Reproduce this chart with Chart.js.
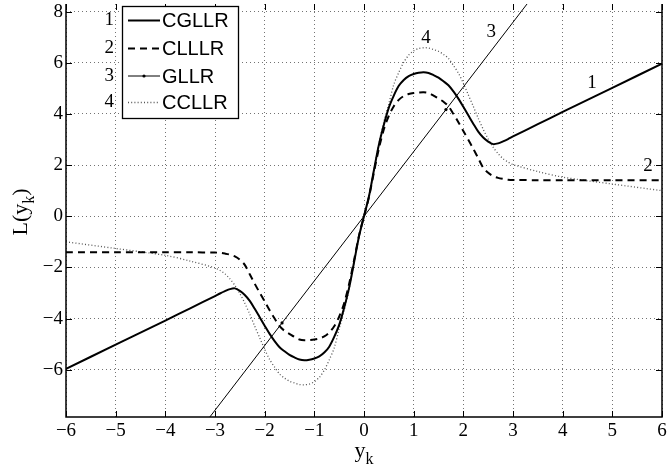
<!DOCTYPE html>
<html><head><meta charset="utf-8">
<script src="https://cdn.jsdelivr.net/npm/chart.js@4.4.1/dist/chart.umd.min.js"></script>
<style>html,body{margin:0;padding:0;background:#fff;}#wrap{width:667px;height:474px;position:relative;}</style>
</head><body><div id="wrap"><canvas id="c" width="667" height="474"></canvas></div>
<script>
// ---- data ----
const xValues = [-6,-5,-4,-3.5,
  -3,-2.9,-2.8,-2.7,-2.6,-2.5,-2.4,-2.3,-2.2,-2.1,-2,-1.9,-1.8,-1.7,-1.6,-1.5,-1.4,-1.3,-1.2,-1.1,-1,-0.9,-0.8,-0.7,-0.6,-0.5,-0.4,-0.3,-0.2,-0.1,
  0,
  0.1,0.2,0.3,0.4,0.5,0.6,0.7,0.8,0.9,1,1.1,1.2,1.3,1.4,1.5,1.6,1.7,1.8,1.9,2,2.1,2.2,2.3,2.4,2.5,2.6,2.7,2.8,2.9,3,
  3.5,4,5,6];
const cgllr = [-5.97,-5.02,-4.08,-3.6,
  -3.12,-3.02,-2.93,-2.85,-2.82,-2.92,-3.08,-3.31,-3.62,-3.95,-4.28,-4.6,-4.88,-5.12,-5.28,-5.42,-5.52,-5.6,-5.63,-5.61,-5.56,-5.48,-5.33,-5.1,-4.72,-4.25,-3.58,-2.8,-1.8,-0.78,
  0,
  0.78,1.8,2.8,3.58,4.25,4.72,5.1,5.33,5.48,5.56,5.61,5.63,5.6,5.52,5.42,5.28,5.12,4.88,4.6,4.28,3.95,3.62,3.31,3.08,2.92,2.82,2.85,2.93,3.02,3.12,
  3.6,4.08,5.02,5.97];
const clllr = [-1.41,-1.41,-1.41,-1.41,
  -1.42,-1.43,-1.46,-1.5,-1.57,-1.7,-1.9,-2.27,-2.64,-2.99,-3.33,-3.68,-4.0,-4.3,-4.48,-4.6,-4.72,-4.82,-4.85,-4.84,-4.82,-4.78,-4.7,-4.55,-4.3,-3.93,-3.4,-2.65,-1.72,-0.75,
  0,
  0.75,1.72,2.65,3.4,3.93,4.3,4.55,4.7,4.78,4.82,4.84,4.85,4.82,4.72,4.6,4.48,4.3,4.0,3.68,3.33,2.99,2.64,2.27,1.9,1.7,1.57,1.5,1.46,1.43,1.42,
  1.41,1.41,1.41,1.41];
const ccllr = [-1.0,-1.26,-1.53,-1.75,
  -2.02,-2.12,-2.25,-2.45,-2.7,-3.02,-3.4,-3.83,-4.3,-4.75,-5.2,-5.6,-5.9,-6.17,-6.33,-6.45,-6.52,-6.58,-6.59,-6.56,-6.47,-6.3,-6.02,-5.62,-5.15,-4.4,-3.7,-2.85,-1.8,-0.8,
  0,
  0.8,1.8,2.85,3.7,4.4,5.15,5.62,6.02,6.3,6.47,6.56,6.59,6.58,6.52,6.45,6.33,6.17,5.9,5.6,5.2,4.75,4.3,3.83,3.4,3.02,2.7,2.45,2.25,2.12,2.02,
  1.75,1.53,1.26,1.0];
const gllrX = [-4.95,-1.65,1.65,4.95];
const gllr = [-12.52,-4.17,4.17,12.52];
const xTicks = [-6,-5,-4,-3,-2,-1,0,1,2,3,4,5,6];
const yTicks = [-6,-4,-2,0,2,4,6,8];
const seriesNames = ['CGLLR','CLLLR','GLLR','CCLLR'];
const seriesNumbers = ['1','2','3','4'];
const curveTags = [{t:'1',x:4.59,y:5.2},{t:'2',x:5.72,y:1.97},{t:'3',x:2.56,y:7.2},{t:'4',x:1.25,y:6.98}];

const pts = (xs, ys) => xs.map((x,i)=>({x:x,y:ys[i]}));
const SERIF = '"Liberation Serif","Times New Roman",serif';
const SANS = '"Liberation Sans",Arial,sans-serif';
const minus = v => String(v).replace('-', '\u2212');

const styles = [
  {borderColor:'#000', borderWidth:2, borderDash:[]},
  {borderColor:'#000', borderWidth:2, borderDash:[7,5]},
  {borderColor:'#000', borderWidth:1, borderDash:[]},
  {borderColor:'#555', borderWidth:1.3, borderDash:[1,2.2]}
];

const decor = {
  id:'decor',
  afterDraw(chart){
    const ctx = chart.ctx, a = chart.chartArea, xs = chart.scales.x, ys = chart.scales.y;
    ctx.save();
    ctx.strokeStyle = '#000'; ctx.lineWidth = 1.5; ctx.setLineDash([]);
    ctx.beginPath();
    ctx.moveTo(a.left, a.top); ctx.lineTo(a.left, a.bottom); ctx.lineTo(a.right, a.bottom); ctx.lineTo(a.right, a.top);
    ctx.stroke();
    ctx.lineWidth = 1; const L = 6;
    ctx.beginPath();
    xTicks.forEach(v=>{ const p = Math.round(xs.getPixelForValue(v))+0.5;
      ctx.moveTo(p, a.bottom); ctx.lineTo(p, a.bottom-L);
      ctx.moveTo(p, a.top); ctx.lineTo(p, a.top+L); });
    yTicks.forEach(v=>{ const p = Math.round(ys.getPixelForValue(v))+0.5;
      ctx.moveTo(a.left, p); ctx.lineTo(a.left+L, p);
      ctx.moveTo(a.right, p); ctx.lineTo(a.right-L, p); });
    ctx.stroke();
    ctx.fillStyle = '#000'; ctx.font = '19px ' + SERIF; ctx.textAlign='center'; ctx.textBaseline='middle';
    curveTags.forEach(c=> ctx.fillText(c.t, xs.getPixelForValue(c.x), ys.getPixelForValue(c.y)));
    const bx = 122, by = 6, bw = 116, bh = 112;
    ctx.fillStyle = '#fff'; ctx.fillRect(bx, by, bw, bh);
    ctx.strokeStyle = '#000'; ctx.lineWidth = 1.3; ctx.strokeRect(bx+0.5, by+0.5, bw, bh);
    const rows = [20.5, 48.5, 76, 102.5];
    chart.data.datasets.forEach((ds,i)=>{
      const y = rows[i];
      ctx.strokeStyle = ds.borderColor; ctx.lineWidth = ds.borderWidth; ctx.setLineDash(ds.borderDash||[]);
      ctx.beginPath(); ctx.moveTo(128, y); ctx.lineTo(160, y); ctx.stroke();
      ctx.setLineDash([]);
      if (ds.pointRadius > 0) { ctx.fillStyle='#000'; ctx.beginPath(); ctx.arc(144, y, ds.pointRadius, 0, Math.PI*2); ctx.fill(); }
      ctx.fillStyle = '#000'; ctx.font = '20px ' + SANS; ctx.textAlign='left'; ctx.textBaseline='middle';
      ctx.fillText(seriesNames[i], 162, y+1);
      ctx.font = '19px ' + SERIF; ctx.textAlign='right';
      ctx.fillText(seriesNumbers[i], 114, y);
    });
    // x axis title y_k
    ctx.textAlign='left'; ctx.textBaseline='alphabetic';
    ctx.font = '22px ' + SERIF;
    const wy = ctx.measureText('y').width;
    ctx.font = '16px ' + SERIF;
    const wk = ctx.measureText('k').width;
    const cx = (a.left + a.right)/2, tx = cx - (wy+wk)/2;
    ctx.font = '22px ' + SERIF; ctx.fillText('y', tx, 457);
    ctx.font = '16px ' + SERIF; ctx.fillText('k', tx+wy, 464);
    // y axis title L(y_k)
    ctx.save();
    ctx.translate(27, 212); ctx.rotate(-Math.PI/2);
    ctx.font = '22px ' + SERIF; const w1 = ctx.measureText('L(y').width, w3 = ctx.measureText(')').width;
    ctx.font = '16px ' + SERIF; const w2 = ctx.measureText('k').width;
    let sx = -(w1+w2+w3)/2;
    ctx.font = '22px ' + SERIF; ctx.fillText('L(y', sx, 0);
    ctx.font = '16px ' + SERIF; ctx.fillText('k', sx+w1, 7);
    ctx.font = '22px ' + SERIF; ctx.fillText(')', sx+w1+w2, 0);
    ctx.restore();
    ctx.restore();
  }
};

const lineCommon = {showLine:true, pointRadius:0, tension:0.3};
new Chart(document.getElementById('c'), {
  type:'scatter',
  data:{ datasets:[
    Object.assign({label:seriesNames[0], data:pts(xValues,cgllr)}, lineCommon, styles[0]),
    Object.assign({label:seriesNames[1], data:pts(xValues,clllr)}, lineCommon, styles[1]),
    Object.assign({label:seriesNames[2], data:pts(gllrX,gllr), showLine:true, tension:0, pointRadius:1.6, pointBackgroundColor:'#000', pointBorderWidth:0}, styles[2]),
    Object.assign({label:seriesNames[3], data:pts(xValues,ccllr)}, lineCommon, styles[3])
  ]},
  options:{
    responsive:false, animation:false, devicePixelRatio:1,
    layout:{padding:{left:0,right:5,top:0,bottom:0}},
    plugins:{legend:{display:false}, tooltip:{enabled:false}},
    scales:{
      x:{ type:'linear', min:-6, max:6,
          afterBuildTicks:s=>{ s.ticks = xTicks.map(v=>({value:v})); },
          afterFit:s=>{ s.height = 57; s.paddingLeft = 0; s.paddingRight = 0; },
          ticks:{ callback:v=>minus(v), font:{family:SERIF, size:19}, color:'#000', padding:3, maxRotation:0, autoSkip:false },
          grid:{ color:'rgba(0,0,0,0.55)', lineWidth:1, drawTicks:false },
          border:{ display:false, dash:[1,3] } },
      y:{ type:'linear', min:-7.85, max:8.3,
          afterBuildTicks:s=>{ s.ticks = yTicks.map(v=>({value:v})); },
          afterFit:s=>{ s.width = 66; s.paddingTop = 0; s.paddingBottom = 0; },
          ticks:{ callback:v=>minus(v), font:{family:SERIF, size:19}, color:'#000', padding:3, autoSkip:false },
          grid:{ color:'rgba(0,0,0,0.55)', lineWidth:1, drawTicks:false },
          border:{ display:false, dash:[1,3] } }
    }
  },
  plugins:[decor]
});
</script></body></html>
